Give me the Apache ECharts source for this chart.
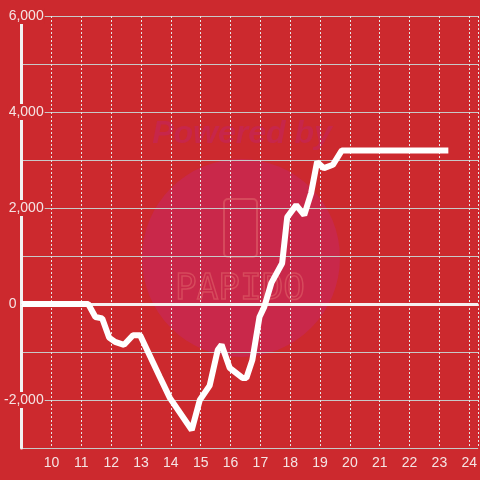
<!DOCTYPE html>
<html>
<head>
<meta charset="utf-8">
<script src="https://cdn.jsdelivr.net/npm/echarts@6/dist/echarts.min.js"></script>
<style>
  html, body { margin: 0; padding: 0; background: #cc292e; }
  #chart { width: 480px; height: 480px; }
</style>
</head>
<body>
<div id="chart"></div>
<script>
// hour of day -> running balance
const hours = [9, 11.23, 11.47, 11.7, 11.93, 12.13, 12.43, 12.73, 12.97, 13.63, 13.97, 14.7,
  14.97, 15.3, 15.57, 15.7, 15.97, 16.4, 16.53, 16.73, 16.97, 17.13, 17.37, 17.73, 17.9,
  18.2, 18.47, 18.7, 18.9, 19.13, 19.43, 19.73, 23.3];
const balance = [0, 0, -270, -300, -700, -790, -850, -650, -650, -1520, -1960, -2625,
  -2000, -1700, -960, -850, -1330, -1540, -1540, -1170, -270, -60, 440, 850, 1810,
  2060, 1850, 2310, 2960, 2830, 2900, 3200, 3200];
const yLabelValues = [-2000, 0, 2000, 4000, 6000];

const BG = '#cc292e';
const TEXT = '#f5e4e4';

function fmtThousands(v) {
  const s = Math.abs(v).toString().replace(/\B(?=(\d{3})+(?!\d))/g, ',');
  return (v < 0 ? '-' : '') + s;
}

const chart = echarts.init(document.getElementById('chart'));

chart.setOption({
  backgroundColor: BG,
  animation: false,
  textStyle: { fontFamily: 'Liberation Sans, Arial, sans-serif' },
  grid: { left: 21, right: 0, top: 16, bottom: 32, containLabel: false },
  graphic: [
    {
      type: 'circle', z: -10, silent: true,
      shape: { cx: 241, cy: 258, r: 99 },
      style: { fill: '#c9284a' }
    },
    {
      type: 'text', z: -10, silent: true,
      x: 242, y: 134,
      style: {
        text: 'Powered by', fill: '#c7264a',
        font: 'italic bold 32px Liberation Sans, Arial, sans-serif',
        align: 'center', verticalAlign: 'middle'
      }
    },
    {
      type: 'rect', z: -9, silent: true,
      shape: { x: 224, y: 199, width: 33, height: 58, r: 4 },
      style: { fill: 'none', stroke: '#d64a5c', lineWidth: 2 }
    },
    {
      type: 'text', z: -9, silent: true,
      x: 240, y: 290,
      style: {
        text: 'PAPIDO', fill: 'none', stroke: '#d64a5c', lineWidth: 1.5,
        font: '36px DejaVu Sans Mono, monospace',
        align: 'center', verticalAlign: 'middle'
      }
    }
  ],
  xAxis: {
    type: 'value',
    min: 9,
    max: 24.3,
    interval: 1,
    axisLine: { show: true, lineStyle: { color: '#c8c8c8', width: 1 } },
    axisTick: { show: false },
    axisLabel: {
      color: TEXT, fontSize: 14, margin: 8,
      showMinLabel: false, showMaxLabel: false,
      formatter: (v) => (Number.isInteger(v) && v > 9 ? String(v) : '')
    },
    splitLine: { show: true, lineStyle: { color: '#e6e6e6', width: 1, type: [2, 2] } }
  },
  yAxis: {
    type: 'value',
    min: -3000,
    max: 6000,
    interval: 1000,
    axisLine: { show: true, lineStyle: { color: '#f2f2f2', width: 3 } },
    axisTick: { show: false },
    axisLabel: {
      color: TEXT, fontSize: 14, margin: -23, align: 'right',
      formatter: (v) => {
        if (!yLabelValues.includes(v)) return '';
        if (v === 0) return '{z|0}';
        return '{a|' + fmtThousands(v) + '}';
      },
      rich: {
        a: { color: TEXT, fontSize: 14, backgroundColor: BG, padding: [1, 1, 1, 1] },
        z: { color: TEXT, fontSize: 14, width: 36, align: 'left' }
      }
    },
    splitLine: { show: true, lineStyle: { color: '#c8c8c8', width: 1 } }
  },
  series: [
    {
      type: 'line',
      data: hours.map((h, i) => [h, balance[i]]),
      showSymbol: false,
      smooth: false,
      lineStyle: { color: '#ffffff', width: 6 },
      itemStyle: { color: '#ffffff' },
      z: 5,
      markLine: {
        silent: true,
        symbol: 'none',
        label: { show: false },
        lineStyle: { color: '#f5f0f0', width: 3, type: 'solid' },
        data: [{ yAxis: 0 }]
      }
    }
  ]
});

window.addEventListener('resize', () => chart.resize());
</script>
</body>
</html>
